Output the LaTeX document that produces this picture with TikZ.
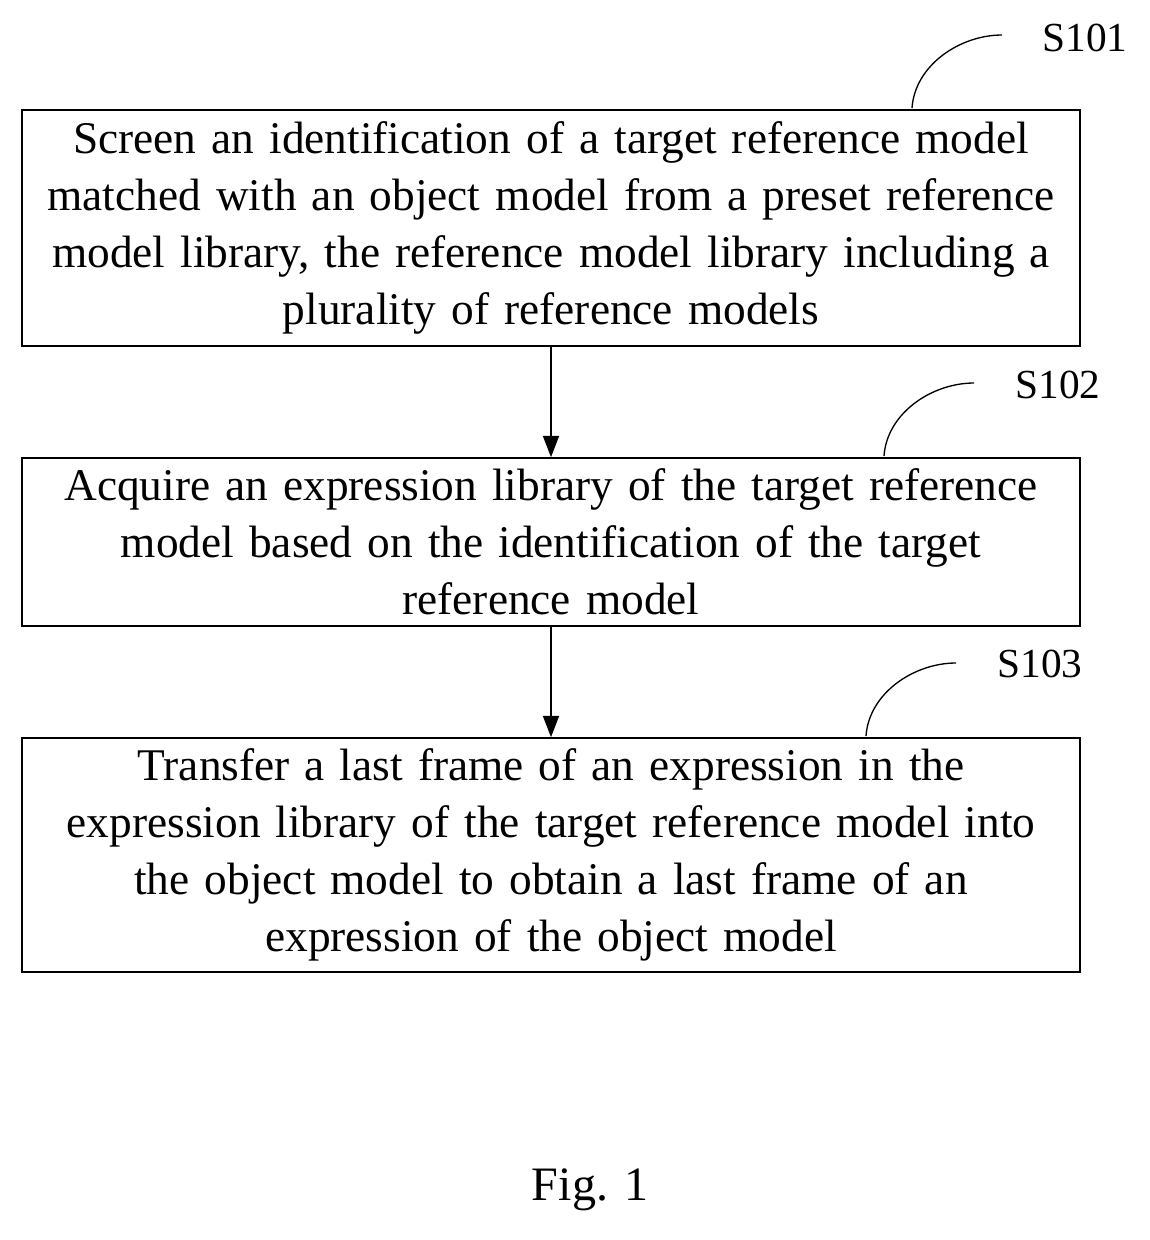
\documentclass[tikz,border=0pt]{standalone}
\usepackage{fontspec}
\setmainfont{Liberation Serif}
\usetikzlibrary{arrows.meta}
\begin{document}
\begin{tikzpicture}[x=0.75pt,y=-0.75pt,
  stepbox/.style={draw=black,line width=1.2pt,minimum width=1058*0.75pt,text width=1056*0.75pt,align=center,inner sep=0pt,font=\fontsize{34}{42.75}\selectfont},
  lbl/.style={font=\fontsize{31}{36}\selectfont},
  flow/.style={-{Triangle[length=16pt,width=12pt]},line width=1.2pt}]
\useasboundingbox (0,0) rectangle (1150,1240);
\node [stepbox,minimum height=236*0.75pt] (s101) at (551,228) {Screen an identification of a target reference model\\ matched with an object model from a preset reference\\ model library, the reference model library including a\\ plurality of reference models};
\node [stepbox,minimum height=168*0.75pt] (s102) at (551,542) {Acquire an expression library of the target reference\\ model based on the identification of the target\\ reference model};
\node [stepbox,minimum height=234*0.75pt] (s103) at (551,855) {Transfer a last frame of an expression in the\\ expression library of the target reference model into\\ the object model to obtain a last frame of an\\ expression of the object model};
\draw [flow] (s101) -- (s102);
\draw [flow] (s102) -- (s103);
% step labels
\node [lbl] (l101) at (1085,38) {S101};
\node [lbl] (l102) at (1058,385) {S102};
\node [lbl] (l103) at (1040,664) {S103};
\draw [line width=1pt] (912,108) .. controls (915,65) and (960,35) .. (1002,35);
\draw [line width=1pt] (884,456) .. controls (887,413) and (932,383) .. (974,383);
\draw [line width=1pt] (866,736) .. controls (869,693) and (914,663) .. (956,663);
\node [font=\fontsize{36}{40}\selectfont] (fig) at (590,1190) {Fig. 1};
\end{tikzpicture}
\end{document}
